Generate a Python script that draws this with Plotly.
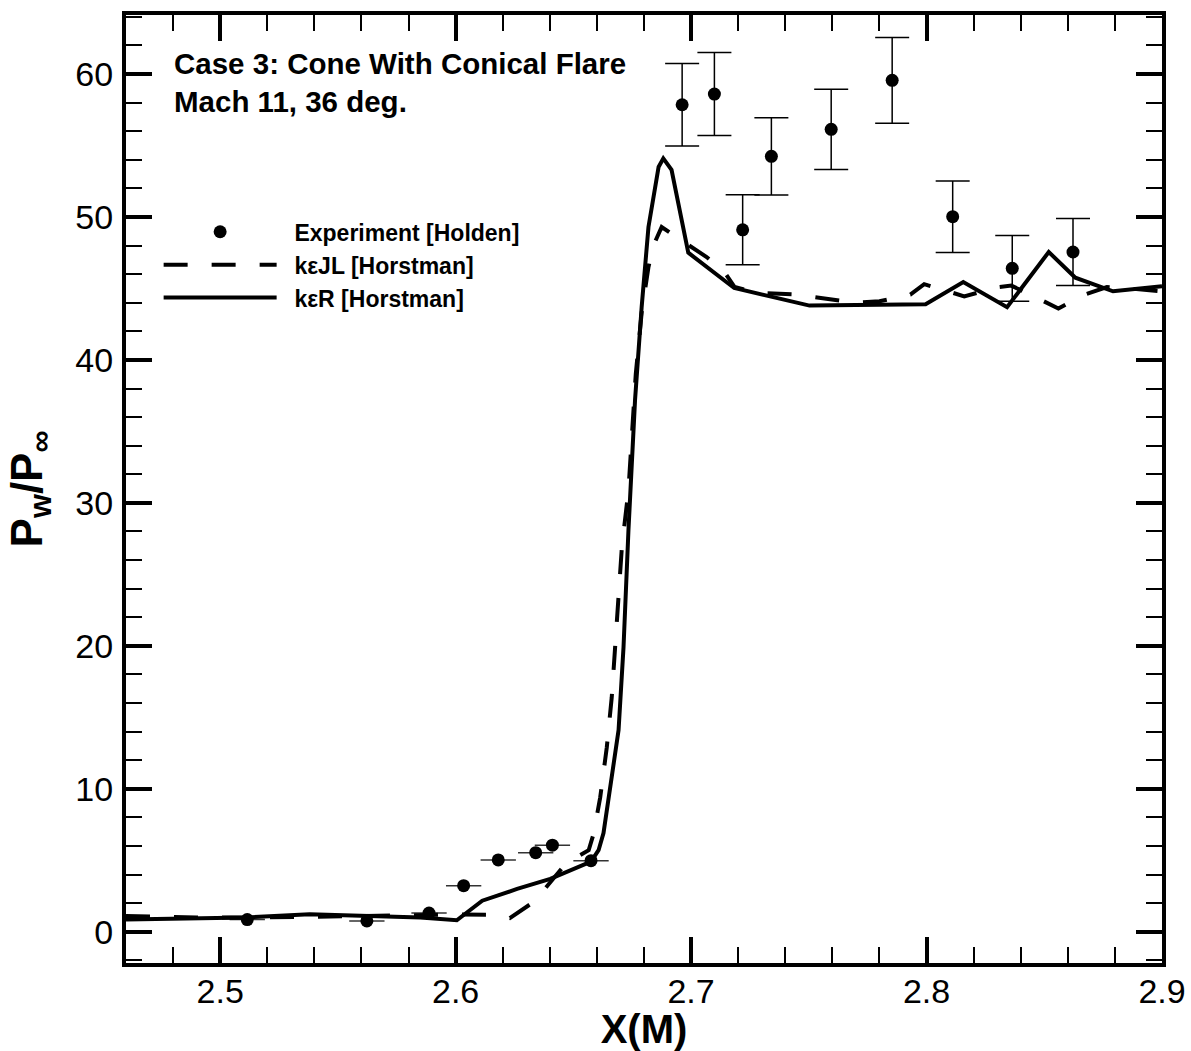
import plotly.graph_objects as go

# Experimental data (Holden) - flare region with vertical error bars
exp_hi_x = [2.6962, 2.7099, 2.7219, 2.7341, 2.7595, 2.7854, 2.8111, 2.8364, 2.8622]
exp_hi_y = [57.85, 58.6, 49.1, 54.24, 56.13, 59.56, 50.02, 46.41, 47.55]
exp_hi_err = [2.88, 2.9, 2.45, 2.7, 2.8, 3.0, 2.5, 2.3, 2.35]

# Experimental data - cone region with horizontal error bars
exp_lo_x = [2.5115, 2.5623, 2.5887, 2.6034, 2.6181, 2.634, 2.6411, 2.6575]
exp_lo_y = [0.85, 0.75, 1.3, 3.22, 5.02, 5.53, 6.05, 4.97]
exp_lo_xerr = [0.0075, 0.0075, 0.0075, 0.0075, 0.0075, 0.0075, 0.0075, 0.0075]

# k-eps R [Horstman] (solid)
kr_x = [2.46, 2.485, 2.5111, 2.538, 2.5633, 2.585, 2.6005, 2.6113, 2.6261, 2.6402,
        2.6575, 2.6607, 2.6628, 2.6692, 2.6713, 2.6734, 2.6762, 2.679, 2.6819, 2.6862,
        2.6882, 2.6917, 2.6988, 2.7183, 2.7503, 2.7996, 2.8156, 2.8342, 2.8519, 2.8632,
        2.8792, 2.9]
kr_y = [0.85, 0.92, 1.0, 1.22, 1.1, 1.0, 0.8, 2.17, 2.99, 3.69,
        4.9, 5.7, 6.9, 14.1, 19.9, 28.1, 37.2, 43.7, 49.3, 53.5,
        54.1, 53.3, 47.5, 45.03, 43.8, 43.9, 45.45, 43.69, 47.55, 45.75,
        44.8, 45.15]

# k-eps JL [Horstman] (dashed)
jl_x = [2.46, 2.49, 2.52, 2.55, 2.58, 2.60, 2.6155, 2.623, 2.6333, 2.647,
        2.6565, 2.6586, 2.6614, 2.6642, 2.6663, 2.6677, 2.6692, 2.6706, 2.6734, 2.6765,
        2.679, 2.6819, 2.684, 2.6875, 2.6974, 2.7066, 2.7139, 2.7185, 2.7283, 2.743,
        2.7524, 2.77, 2.78, 2.7931, 2.799, 2.8105, 2.816, 2.8308, 2.836, 2.8498,
        2.856, 2.866, 2.8766, 2.8858, 2.9]
jl_y = [1.1, 1.0, 1.0, 1.1, 1.2, 1.2, 1.19, 0.95, 2.1, 4.8,
        5.7, 6.85, 9.4, 12.9, 16.4, 19.9, 23.4, 26.9, 30.9, 39.0,
        43.3, 46.5, 48.0, 49.3, 48.2, 47.2, 46.2, 45.1, 44.7, 44.6,
        44.4, 44.0, 44.1, 44.57, 45.3, 44.7, 44.45, 45.1, 45.2, 44.1,
        43.6, 44.5, 45.1, 45.0, 44.8]

x_ticks = [2.5, 2.6, 2.7, 2.8, 2.9]
y_ticks = [0, 10, 20, 30, 40, 50, 60]

TICKFONT = "Liberation Sans Narrow, Arial Narrow, Liberation Sans, Arial"
BOLDFONT = "Liberation Sans, Arial"
PAD = "\u00a0\u00a0"

fig = go.Figure()

fig.add_trace(go.Scatter(
    x=exp_hi_x, y=exp_hi_y, mode="markers", name=PAD + "Experiment [Holden]",
    marker=dict(color="black", size=13, symbol="circle"),
    error_y=dict(type="data", array=exp_hi_err, color="black", thickness=1.5, width=17),
    showlegend=True,
))
fig.add_trace(go.Scatter(
    x=exp_lo_x, y=exp_lo_y, mode="markers", name=PAD + "Experiment [Holden]",
    marker=dict(color="black", size=13, symbol="circle"),
    error_x=dict(type="data", array=exp_lo_xerr, color="#333333", thickness=1.5, width=0),
    showlegend=False,
))
fig.add_trace(go.Scatter(
    x=jl_x, y=jl_y, mode="lines", name=PAD + "k\u03b5JL [Horstman]",
    line=dict(color="black", width=4, dash="24px,24px"),
))
fig.add_trace(go.Scatter(
    x=kr_x, y=kr_y, mode="lines", name=PAD + "k\u03b5R [Horstman]",
    line=dict(color="black", width=4),
))

fig.add_annotation(
    xref="paper", yref="paper", x=0.044, y=0.9685, xanchor="left", yanchor="top",
    text="Case 3: Cone With Conical Flare<br>Mach 11, 36 deg.", showarrow=False, align="left",
    font=dict(family=BOLDFONT, size=29.5, color="black", weight="bold"),
)

axis_common = dict(
    showline=True, linecolor="black", linewidth=4, mirror="ticks",
    ticks="inside", ticklen=26, tickwidth=4, tickcolor="black",
    showgrid=False, zeroline=False, automargin=False,
    tickfont=dict(family=TICKFONT, size=34, color="black"),
)

fig.update_xaxes(
    range=[2.46, 2.9], tickvals=x_ticks, ticktext=[str(v) for v in x_ticks],
    minor=dict(dtick=0.02, ticks="inside", ticklen=16, tickwidth=1.5, tickcolor="black", showgrid=False),
    title=dict(text="X(M)", font=dict(family=TICKFONT, size=40, color="black", weight="bold"), standoff=0),
    ticklabelstandoff=-5,
    **axis_common,
)
fig.update_yaxes(
    range=[-2.19, 64.13], tickvals=y_ticks, ticktext=[str(v) for v in y_ticks],
    minor=dict(dtick=2, tick0=0, ticks="inside", ticklen=16, tickwidth=1.5, tickcolor="black", showgrid=False),
    title=dict(text="P<sub>w</sub>/P<sub>\u221e</sub>", font=dict(family=TICKFONT, size=44, color="black", weight="bold"), standoff=20),
    ticklabelstandoff=2,
    **axis_common,
)

fig.update_layout(
    width=1191, height=1051,
    margin=dict(l=126, r=29, t=15, b=88, autoexpand=False),
    plot_bgcolor="white", paper_bgcolor="white",
    legend=dict(
        x=0.0315, y=0.794, xanchor="left", yanchor="top",
        font=dict(family=BOLDFONT, size=23, color="black", weight="bold"),
        bgcolor="rgba(0,0,0,0)", itemwidth=113, tracegroupgap=0,
    ),
)

fig.write_html("out.html")
